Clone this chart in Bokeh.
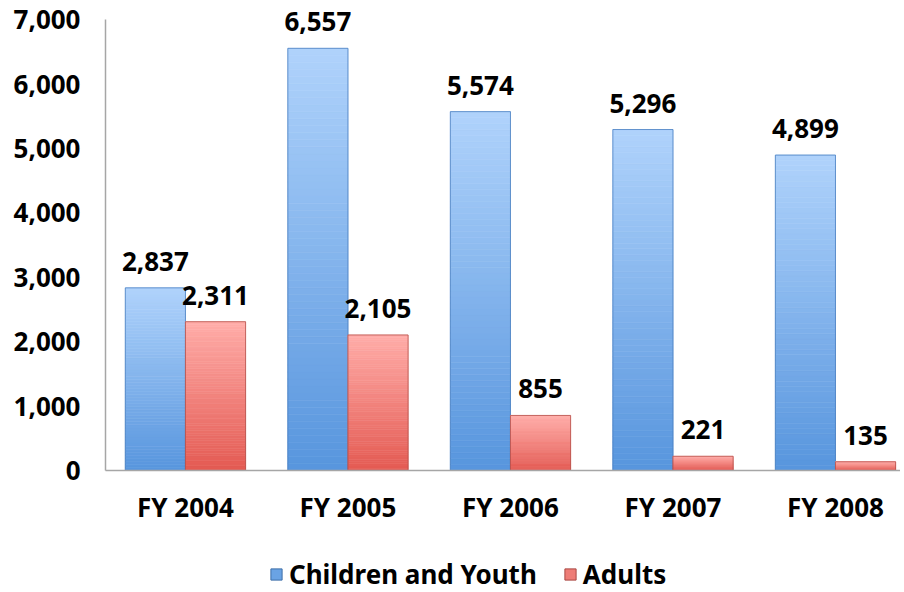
from bokeh.plotting import figure
from bokeh.layouts import column
from bokeh.models import (ColumnDataSource, Legend, LegendItem, FixedTicker, NumeralTickFormatter,
                          Range1d, LabelSet)
from bokeh.core.properties import value
from bokeh.embed import file_html
from bokeh.resources import INLINE

categories = ["FY 2004", "FY 2005", "FY 2006", "FY 2007", "FY 2008"]
children = [2837, 6557, 5574, 5296, 4899]
adults = [2311, 2105, 855, 221, 135]
series_names = ["Children and Youth", "Adults"]
y_ticks = [0, 1000, 2000, 3000, 4000, 5000, 6000, 7000]
y_axis_max = 7000

FONT = "Noto Sans"
FSIZE = "26px"
BAR_W = 0.37
N_STRIPS = 60

blue_top, blue_bottom, blue_edge = "#afd2fb", "#5896de", "#4a7fc0"
red_top, red_bottom, red_edge = "#ffaca8", "#e45b53", "#b5504b"


def hex2rgb(h):
    h = h.lstrip("#")
    return tuple(int(h[i:i + 2], 16) for i in (0, 2, 4))


def lerp(c1, c2, t):
    a, b = hex2rgb(c1), hex2rgb(c2)
    return "#%02x%02x%02x" % tuple(int(round(a[i] + (b[i] - a[i]) * t)) for i in range(3))


# frame runs from canvas top; axis line drawn only up to 7000
p = figure(width=900, height=544, output_backend="svg", toolbar_location=None,
           x_range=Range1d(-0.492, 4.40), y_range=Range1d(0, 7300),
           min_border_left=105, min_border_top=0, min_border_right=0, min_border_bottom=74)
p.outline_line_color = None
p.xgrid.visible = False
p.ygrid.visible = False


def gradient_bars(vals, offset, c_bottom, c_top, edge):
    src = dict(left=[], right=[], bottom=[], top=[], color=[])
    for i, v in enumerate(vals):
        for k in range(N_STRIPS):
            t = k / (N_STRIPS - 1)
            src["left"].append(i + offset)
            src["right"].append(i + offset + BAR_W)
            src["bottom"].append(v * k / N_STRIPS)
            src["top"].append(v * (k + 1) / N_STRIPS)
            src["color"].append(lerp(c_bottom, c_top, t))
    p.quad(left="left", right="right", bottom="bottom", top="top", source=ColumnDataSource(src),
           fill_color="color", line_color="color", line_width=0.6)
    out = dict(left=[i + offset for i in range(len(vals))],
               right=[i + offset + BAR_W for i in range(len(vals))],
               bottom=[0] * len(vals), top=list(vals))
    p.quad(left="left", right="right", bottom="bottom", top="top", source=ColumnDataSource(out),
           fill_alpha=0, line_color=edge, line_width=1, line_alpha=0.8)
    lab = ColumnDataSource(dict(x=[i + offset + BAR_W / 2 for i in range(len(vals))], y=list(vals),
                                text=["{:,}".format(v) for v in vals]))
    p.add_layout(LabelSet(x="x", y="y", text="text", source=lab, text_font=value(FONT),
                          text_font_style="bold", text_font_size=FSIZE, text_align="center",
                          text_baseline="alphabetic", y_offset=17, text_color="black"))


gradient_bars(children, -BAR_W, blue_bottom, blue_top, blue_edge)
gradient_bars(adults, 0.0, red_bottom, red_top, red_edge)

# axes
for ax in (p.xaxis[0], p.yaxis[0]):
    ax.axis_line_color = "#a6a6a6"
    ax.axis_line_width = 1.5
    ax.major_tick_line_color = None
    ax.minor_tick_line_color = None
    ax.major_label_text_font = FONT
    ax.major_label_text_font_style = "bold"
    ax.major_label_text_font_size = FSIZE
    ax.major_label_text_color = "black"

p.yaxis.ticker = FixedTicker(ticks=y_ticks)
p.yaxis.bounds = (0, y_axis_max)
p.yaxis.formatter = NumeralTickFormatter(format="0,0")
p.yaxis.major_label_standoff = 19

p.xaxis.ticker = FixedTicker(ticks=list(range(len(categories))))
p.xaxis.major_label_overrides = {i: c for i, c in enumerate(categories)}
p.xaxis.major_label_standoff = 12

# legend strip (its frame is aligned with the main frame's left edge)
lg = figure(width=900, height=48, output_backend="svg", toolbar_location=None,
            x_axis_type=None, y_axis_type=None,
            x_range=Range1d(0, 1), y_range=Range1d(0, 1),
            min_border_left=0, min_border_right=0, min_border_top=0, min_border_bottom=0)
lg.outline_line_color = None
lg.grid.visible = False
leg_c = lg.quad(left=[-10], right=[-9], bottom=[-10], top=[-9],
                fill_color="#6aa3e4", line_color="#3f6fa8", line_width=1)
leg_a = lg.quad(left=[-10], right=[-9], bottom=[-10], top=[-9],
                fill_color="#ee7d77", line_color="#a84843", line_width=1)

legend = Legend(items=[LegendItem(label=series_names[0], renderers=[leg_c]),
                       LegendItem(label=series_names[1], renderers=[leg_a])],
                orientation="horizontal", location=(164, 0))
legend.label_text_font = FONT
legend.label_text_font_style = "bold"
legend.label_text_font_size = FSIZE
legend.label_text_color = "black"
legend.glyph_width = 14
legend.glyph_height = 14
legend.label_standoff = 6
legend.spacing = 26
legend.border_line_alpha = 0
legend.background_fill_alpha = 0
legend.margin = 0
legend.padding = 0
lg.add_layout(legend)

open("out.html", "w").write(file_html(column(p, lg, spacing=0), INLINE))
